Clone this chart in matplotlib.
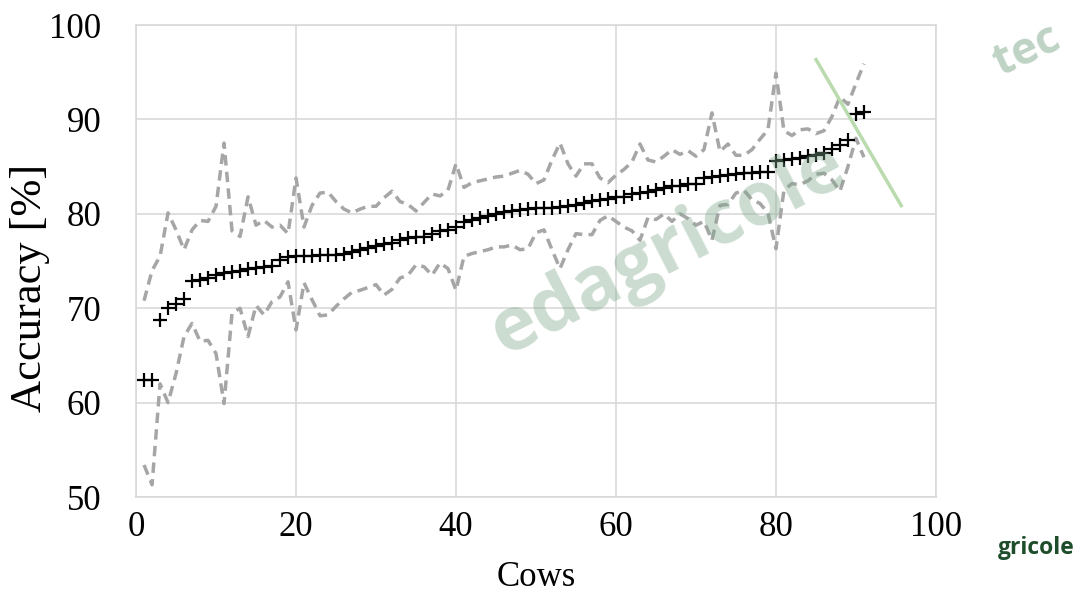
import numpy as np
import matplotlib.pyplot as plt
from matplotlib.lines import Line2D

cows = np.arange(1, 92)

accuracy = [62.4, 62.4, 68.8, 70.0, 70.4, 71.0, 72.9, 73.0, 73.2, 73.5,
            73.7, 73.8, 73.9, 74.2, 74.3, 74.4, 74.5, 75.1, 75.4, 75.5,
            75.5, 75.5, 75.6, 75.6, 75.6, 75.7, 76.0, 76.2, 76.4, 76.6,
            76.8, 76.9, 77.2, 77.4, 77.5, 77.6, 77.9, 78.2, 78.3, 78.6,
            79.1, 79.3, 79.6, 79.8, 80.0, 80.2, 80.3, 80.4, 80.5, 80.6,
            80.6, 80.6, 80.7, 80.8, 80.9, 81.2, 81.4, 81.5, 81.6, 81.8,
            81.8, 82.1, 82.2, 82.3, 82.5, 82.7, 82.9, 83.0, 83.2, 83.2,
            83.8, 83.9, 84.0, 84.1, 84.2, 84.3, 84.3, 84.4, 84.4, 85.6,
            85.7, 85.8, 85.9, 86.1, 86.2, 86.4, 86.9, 87.3, 87.8, 90.6,
            90.8]

upper = [70.8, 74.0, 75.5, 80.1, 78.3, 76.2, 78.3, 79.3, 79.2, 80.8,
         87.5, 78.2, 77.6, 81.8, 78.8, 79.3, 78.6, 78.8, 77.9, 83.8,
         78.6, 80.9, 82.2, 82.3, 81.3, 80.5, 80.1, 80.5, 80.8, 80.8,
         81.7, 82.4, 81.3, 81.0, 80.3, 81.2, 82.1, 81.9, 82.5, 85.3,
         82.8, 83.3, 83.5, 83.7, 83.9, 84.0, 84.3, 84.6, 84.2, 83.2,
         83.6, 85.7, 87.5, 85.3, 84.0, 85.3, 85.3, 83.8, 83.3, 84.1,
         84.7, 85.5, 87.4, 85.7, 85.5, 86.1, 86.8, 86.3, 86.7, 86.1,
         86.8, 90.7, 86.6, 87.4, 86.2, 86.2, 86.8, 87.9, 88.9, 94.9,
         88.8, 88.3, 88.9, 89.0, 88.5, 88.8, 90.3, 92.4, 91.6, 93.8,
         95.9]

lower = [53.4, 51.3, 62.0, 60.0, 63.1, 67.0, 68.4, 66.5, 66.6, 65.2,
         59.9, 69.5, 70.0, 67.0, 70.3, 69.3, 70.7, 71.2, 72.8, 67.7,
         72.7, 70.9, 69.2, 69.3, 70.2, 71.0, 71.7, 71.9, 72.2, 72.5,
         71.4, 72.0, 73.2, 73.5, 74.6, 74.4, 73.5, 74.8, 74.2, 71.9,
         75.5, 75.8, 76.0, 76.2, 76.5, 76.5, 76.7, 76.2, 76.3, 78.0,
         78.3, 76.2, 74.2, 76.2, 77.9, 77.8, 77.8, 79.3, 79.8, 79.2,
         78.6, 78.2, 77.2, 79.6, 79.4, 80.0, 79.2, 80.0, 79.5, 78.8,
         79.2, 77.2, 80.9, 81.0, 82.2, 82.5, 81.5, 81.1, 80.1, 76.3,
         82.5, 83.2, 83.1, 83.5, 84.2, 84.3, 83.6, 82.4, 85.0, 88.0,
         86.0]

plt.rcParams['font.family'] = ['Liberation Serif', 'DejaVu Serif']

fig = plt.figure(figsize=(10.78, 5.96), dpi=100)
ax = fig.add_axes([0.1262, 0.166, 0.742, 0.792])

grid_col = '#d9d9d9'
dash_col = '#a6a6a6'

ax.plot(cows, upper, color=dash_col, lw=2.5, linestyle=(0, (3, 1.8)), zorder=3)
ax.plot(cows, lower, color=dash_col, lw=2.5, linestyle=(0, (3, 1.8)), zorder=3)
ax.plot(cows, accuracy, linestyle='none', marker='+', color='black',
        markersize=9.5, markeredgewidth=1.6, zorder=4)

ax.set_xlim(0, 100)
ax.set_ylim(50, 100)
ax.set_xticks(range(0, 101, 20))
ax.set_yticks(range(50, 101, 10))
ax.grid(True, color=grid_col, lw=1.2, zorder=0)
ax.set_axisbelow(True)
for s in ax.spines.values():
    s.set_color(grid_col)
    s.set_linewidth(1.2)
ax.tick_params(length=0, labelsize=25)
ax.tick_params(axis='x', pad=10)
ax.tick_params(axis='y', pad=25)

ax.set_xlabel('Cows', fontsize=25, labelpad=12)
ax.set_ylabel('Accuracy [%]', fontsize=32)
ax.yaxis.set_label_coords(-0.108, 0.443)

# watermark from the source image
fig.text(0.62, 0.58, 'edagricole', fontsize=54, fontweight='bold',
         family='Open Sans', color='#7fa88c', alpha=0.4, rotation=27,
         ha='center', va='center', zorder=0)
fig.text(0.99, 0.915, 'tec', fontsize=32, fontweight='bold',
         family='Open Sans', color='#7fa88c', alpha=0.5, rotation=25,
         ha='right', va='center', zorder=0)
fig.add_artist(Line2D([0.757, 0.836], [0.90, 0.655], transform=fig.transFigure,
                      color='#b9dbae', lw=2.5, zorder=5))
fig.text(0.997, 0.08, 'gricole', fontsize=16.5, fontweight='bold',
         family='Open Sans', color='#1e4d2b', ha='right', va='center')

fig.savefig('out.png', dpi=100)
